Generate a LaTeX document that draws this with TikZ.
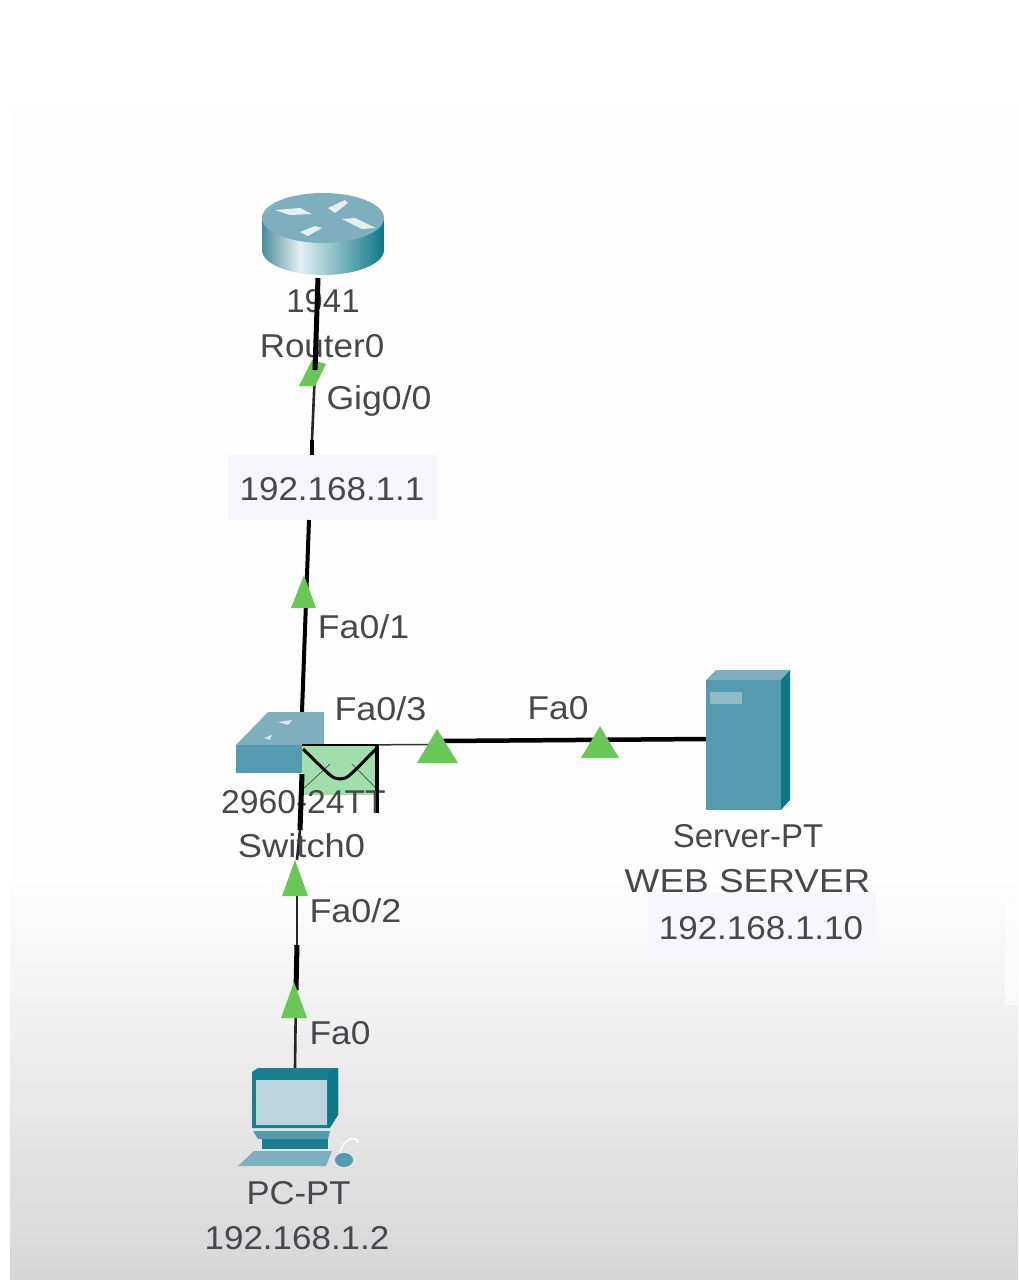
\documentclass[tikz,border=0pt]{standalone}
\usepackage{fontspec}
\setmainfont{Liberation Sans}
\definecolor{txt}{RGB}{72,72,76}
\definecolor{tri}{RGB}{105,200,85}
\definecolor{tealfront}{RGB}{84,155,175}
\definecolor{tealtop}{RGB}{125,175,190}
\definecolor{tealside}{RGB}{12,120,135}
\definecolor{boxbg}{RGB}{246,246,252}
\definecolor{envfill}{RGB}{160,222,172}
\definecolor{endgray}{RGB}{214,214,214}
\definecolor{paper}{RGB}{254,254,254}
\definecolor{screen}{RGB}{188,212,222}
\newcommand{\wid}[2]{\scalebox{#1}[1]{#2}}
\tikzset{
 lbl/.style={text=txt,font=\fontsize{33}{33}\selectfont,inner sep=0pt,anchor=center},
 thickcable/.style={line width=5pt,black},
 thincable/.style={line width=2.6pt,black!85},
 ipbox/.style={fill=boxbg,inner sep=0pt},
 arrowtri/.style={fill=tri,draw=none},
 devbox/.style={inner sep=0pt},
}
\begin{document}
\begin{tikzpicture}[x=1pt,y=-1pt]
\useasboundingbox (0,0) rectangle (1018,1280);
% background
\fill[white] (0,0) rectangle (1018,1280);
\fill[paper] (10,105) rectangle (1018,880);
\shade[top color=paper,bottom color=endgray] (10,880) rectangle (1018,1280);
\fill[white,opacity=.6] (1005,900) rectangle (1018,1005);
% label backgrounds
\node[ipbox,minimum width=210pt,minimum height=65pt] (ipr) at (333,487.5) {};
\node[ipbox,minimum width=228pt,minimum height=67pt] (ips) at (762,926.5) {};
% device anchors
\node[devbox,minimum width=122pt,minimum height=82pt] (router) at (323,235) {};
\node[devbox,minimum width=8pt,minimum height=62pt] (switch) at (302,743) {};
\node[devbox,minimum width=76pt,minimum height=50pt] (env) at (340,770) {};
\node[devbox,minimum width=75pt,minimum height=130pt] (server) at (743.5,745) {};
\node[devbox,minimum width=86pt,minimum height=60pt] (pc) at (295,1098) {};
\coordinate (rs1) at (315,370);
\coordinate (rs2) at (312,440);
\coordinate (rs3) at (309,520);
\coordinate (sp1) at (297,945);
\coordinate (sp2) at (296,990);
\coordinate (ss1) at (442,741);
% white patch behind Fa0/3
\fill[white] (324,690) rectangle (433,743);
% connectors
\draw[thincable] (rs1) -- (rs2);
\draw[thickcable,line width=4pt] (rs2) -- (312,455);
\draw[thickcable,line width=4pt] (rs3) -- (switch.north);
\draw[thickcable,line width=4.5pt] (ss1) -- (server.west |- 0,739);
\draw[black!80,line width=1.5pt] (env.north east) -- (442,744.5);
% server
\fill[tealtop] (706,680) -- (716,670) -- (790,670) -- (781,680) -- cycle;
\fill[tealside] (781,680) -- (790,670) -- (790,800) -- (781,810) -- cycle;
\fill[tealfront] (server.north west) rectangle (server.south east);
\fill[tealtop!85!white] (710,692) rectangle (742,704);
% router
\begin{scope}
\clip (262,218) -- (262,250) arc[start angle=180,end angle=360,x radius=61pt,y radius=25pt] -- (384,218) -- cycle;
\shade[left color=tealfront!90!black,right color=white!85!tealfront] (262,200) rectangle (300,280);
\shade[left color=white!85!tealfront,right color=tealside] (300,200) rectangle (384,280);
\end{scope}
\fill[tealtop] (323,218) ellipse[x radius=61pt,y radius=25pt];
\fill[white!80!tealtop] (275,210) -- (300,208) -- (312,214) -- (290,215) -- cycle;
\fill[white!80!tealtop] (328,208) -- (345,200) -- (348,203) -- (335,213) -- cycle;
\fill[white!80!tealtop] (342,219) -- (355,218) -- (376,228) -- (362,229) -- cycle;
\fill[white!80!tealtop] (300,232) -- (315,226) -- (322,228) -- (308,236) -- cycle;
% switch
\fill[tealtop] (236,745) -- (268,712) -- (324,712) -- (324,745) -- cycle;
\fill[tealfront] (236,745) rectangle (302,773);
\fill[white!70!tealtop] (278,722) -- (292,720) -- (288,725) -- cycle;
\fill[white!70!tealtop] (264,738) -- (272,735) -- (270,740) -- cycle;
% envelope
\fill[envfill] (env.north west) rectangle (env.south east);
\draw[black,line width=.8pt,opacity=.55] (302,790) -- (330,764) (378,790) -- (352,764);
\draw[black,line width=1.5pt] (302,745) -- (378,745);
\draw[black,line width=3pt] (303,749) .. controls (330,775) and (332,779) .. (340,779) .. controls (348,779) and (350,775) .. (376,749);
\draw[black,line width=4pt] (377,745) -- (377,813);
% lower connectors
\draw[thincable] (300,830) -- (297,860);
\draw[thincable] (297,880) -- (sp1);
\draw[thickcable] (sp1) -- (sp2);
\draw[thincable] (sp2) -- (pc.north);
% pc
\fill[tealside!80!tealfront] (252,1072) -- (258,1068) -- (338,1068) -- (338,1115) -- (330,1128) -- (252,1128) -- cycle;
\fill[tealside] (328,1072) -- (338,1068) -- (338,1115) -- (328,1128) -- cycle;
\fill[screen] (256,1080) rectangle (327,1125);
\fill[tealfront] (253,1131) -- (330,1131) -- (328,1139) -- (258,1139) -- cycle;
\fill[tealside!80!tealfront] (262,1139) rectangle (328,1149);
\fill[tealtop] (238,1166) -- (254,1151) -- (332,1151) -- (326,1166) -- cycle;
\fill[tealfront] (344,1160) ellipse[x radius=9pt,y radius=7pt];
\draw[white,line width=1.5pt] (340,1152) .. controls (345,1136) and (358,1136) .. (358,1143);
% triangles
\fill[arrowtri] (299,386) -- (312,360) -- (326,364) -- (315,386) -- cycle;
\fill[arrowtri] (291,608) -- (304,575) -- (316,608) -- cycle;
\fill[arrowtri] (417,763) -- (437,729) -- (458,763) -- cycle;
\fill[arrowtri] (581,758) -- (600,726) -- (619,758) -- cycle;
\fill[arrowtri] (282,896) -- (295,860) -- (308,896) -- cycle;
\fill[arrowtri] (281,1018) -- (294,982) -- (307,1018) -- cycle;
% labels
\node[lbl] (t1) at (323,301) {1941};
\node[lbl] (t2) at (322,346) {\wid{1.06}{Router0}};
\node[lbl] (t3) at (379,401) {\wid{1.08}{Gig0/0}};
\node[lbl] (t4) at (332,489) {\wid{1.06}{192.168.1.1}};
\node[lbl] (t5) at (363.5,627) {\wid{1.08}{Fa0/1}};
\node[lbl] (t6) at (380.5,709) {\wid{1.09}{Fa0/3}};
\node[lbl] (t7) at (558,708) {\wid{1.07}{Fa0}};
\node[lbl] (t8) at (303.5,802) {\wid{1.02}{2960-24TT}};
\node[lbl] (t9) at (301.5,846) {\wid{1.1}{Switch0}};
\node[lbl] (t10) at (355.5,911) {\wid{1.09}{Fa0/2}};
\node[lbl] (t11) at (340,1033) {\wid{1.07}{Fa0}};
\node[lbl] (t12) at (748,836) {Server-PT};
\node[lbl] (t13) at (747.5,881) {\wid{1.12}{WEB SERVER}};
\node[lbl] (t14) at (761,928) {\wid{1.06}{192.168.1.10}};
\node[lbl] (t15) at (298.5,1193) {\wid{1.05}{PC-PT}};
\node[lbl] (t16) at (297,1238) {\wid{1.06}{192.168.1.2}};
% cables over the labels
\draw[thickcable] (318,278) -- (rs1);
\draw[thickcable,line width=5pt] (switch.south) -- (300,830);
\draw[black,line width=3pt] (377,780) -- (377,813);
\end{tikzpicture}
\end{document}
